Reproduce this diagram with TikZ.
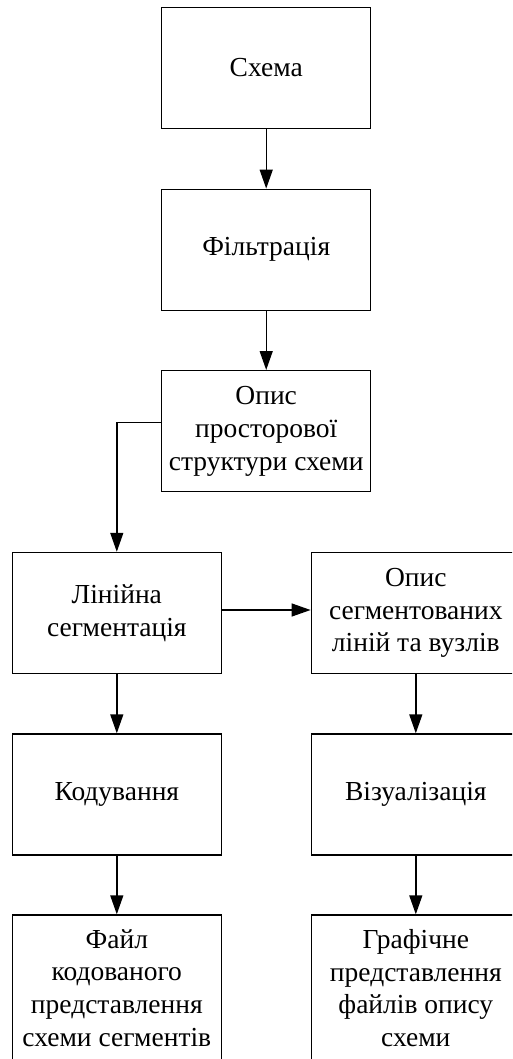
\documentclass[tikz,border=0pt]{standalone}
\usepackage{fontspec}
\setmainfont{Liberation Serif}
\usetikzlibrary{arrows.meta}
\begin{document}
\begin{tikzpicture}[x=1pt,y=-1pt,
  box/.style={draw, line width=1.4pt, minimum width=209pt, minimum height=121pt, inner sep=0pt, align=center, font=\fontsize{27.5}{32.7}\selectfont},
  tallbox/.style={box, minimum height=146pt},
  arr/.style={line width=1.4pt, -{Triangle[length=19pt,width=13pt]}}]
\useasboundingbox (0,0) rectangle (512,1059);
\clip (0,0) rectangle (512,1059);
\node[box] (b1) at (266.2,67.8) {Схема};
\node[box] (b2) at (266.2,249.8) {Фільтрація};
\node[box] (b3) at (266.2,431.2) {Опис\\просторової\\структури схеми};
\node[box] (b4) at (116.8,613) {Лінійна\\сегментація};
\node[box] (b5) at (415.8,613) {Опис\\сегментованих\\ліній та вузлів};
\node[box] (b6) at (116.8,794.5) {Кодування};
\node[box] (b7) at (415.8,794.5) {Візуалізація};
\node[tallbox] (b8) at (116.8,988) {Файл\\кодованого\\представлення\\схеми сегментів};
\node[tallbox] (b9) at (415.8,988) {Графічне\\представлення\\файлів опису\\схеми};
\draw[arr] (b1) -- (b2);
\draw[arr] (b2) -- (b3);
\draw[arr] ([yshift=9pt]b3.west) -| (b4.north);
\draw[arr] ([yshift=3pt]b4.east) -- ([yshift=3pt]b5.west);
\draw[arr] (b4) -- (b6);
\draw[arr] (b5) -- (b7);
\draw[arr] (b6) -- (b8);
\draw[arr] (b7) -- (b9);
\end{tikzpicture}
\end{document}
